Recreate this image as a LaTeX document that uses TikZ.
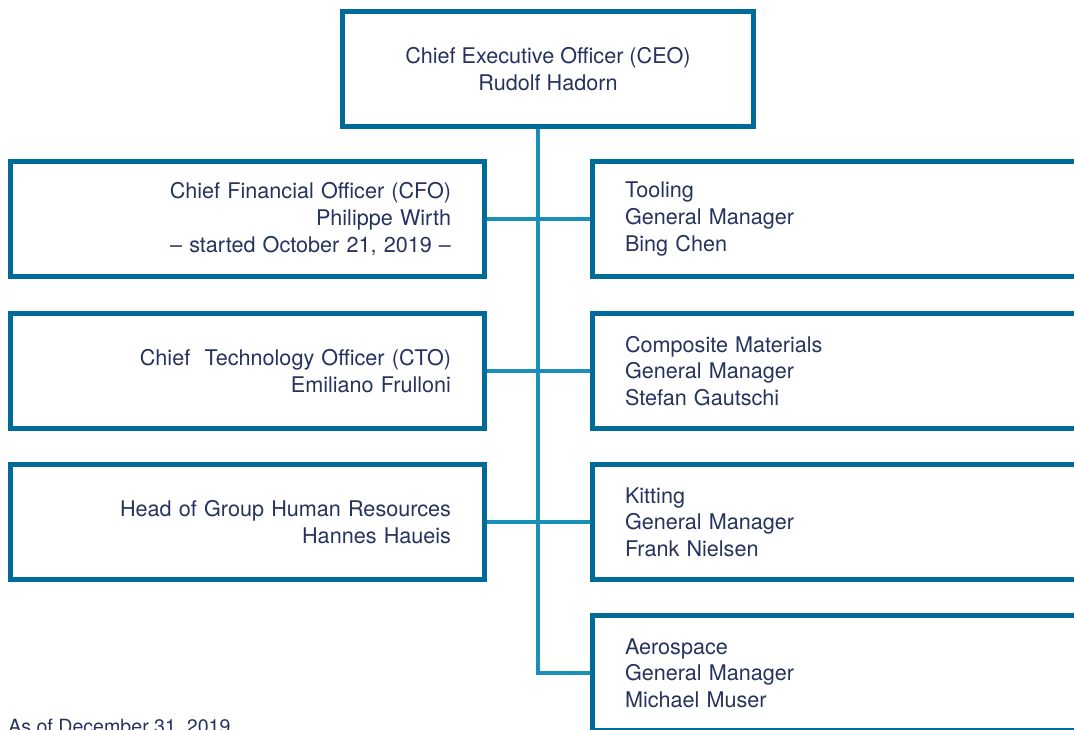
\documentclass[tikz,border=0pt]{standalone}
\usepackage{fontspec}
\setmainfont{TeX Gyre Heros}
\usetikzlibrary{backgrounds}

\definecolor{boxblue}{HTML}{006B96}
\definecolor{lineblue}{HTML}{1A8FB8}
\definecolor{txtblue}{HTML}{27335E}

\tikzset{
  orgbox/.style={rectangle, draw=boxblue, line width=3.75pt, fill=white,
    outer sep=0pt, minimum height=86.25pt, text=txtblue,
    font=\fontsize{16.2}{19.9}\selectfont},
  leftbox/.style={orgbox, minimum width=355.5pt, text width=305.25pt, align=right},
  rightbox/.style={orgbox, anchor=west, minimum width=390pt, text width=341.25pt, align=left},
  link/.style={draw=lineblue, line width=3.4pt},
}

\begin{document}
\begin{tikzpicture}[x=0.75pt,y=-0.75pt]
    \useasboundingbox (0,0) rectangle (1074,730);
    \clip (0,0) rectangle (1074,730);

    % top
    \node[orgbox, minimum width=308.25pt, align=center] (ceo) at (548,69)
      {Chief Executive Officer (CEO)\\Rudolf Hadorn};
    \coordinate (trunk) at (538,0);

    % left column
    \node[leftbox] (cfo) at (247.5,219)
      {Chief Financial Officer (CFO)\\Philippe Wirth\\– started October 21, 2019 –};
    \node[leftbox] (cto) at (247.5,371)
      {Chief\ \ Technology Officer (CTO)\\Emiliano Frulloni};
    \node[leftbox] (hr) at (247.5,522)
      {Head of Group Human Resources\\Hannes Haueis};

    % right column
    \node[rightbox] (tool) at (592.5,219)
      {Tooling\\General Manager\\Bing Chen};
    \node[rightbox] (comp) at (592.5,371)
      {Composite Materials\\General Manager\\Stefan Gautschi};
    \node[rightbox] (kit) at (592.5,522)
      {Kitting\\General Manager\\Frank Nielsen};
    \node[rightbox] (aero) at (592.5,673)
      {Aerospace\\General Manager\\Michael Muser};

    \node[anchor=base west, inner sep=0pt, text=txtblue,
      font=\fontsize{14.7}{18}\selectfont] (asof) at (8,733) {As of December 31, 2019};

    % connectors
    \begin{scope}[on background layer]
      \draw[link] (ceo.south -| trunk) |- (aero.west);
      \draw[link] (cfo.east) -- (tool.west);
      \draw[link] (cto.east) -- (comp.west);
      \draw[link] (hr.east) -- (kit.west);
    \end{scope}
\end{tikzpicture}
\end{document}
